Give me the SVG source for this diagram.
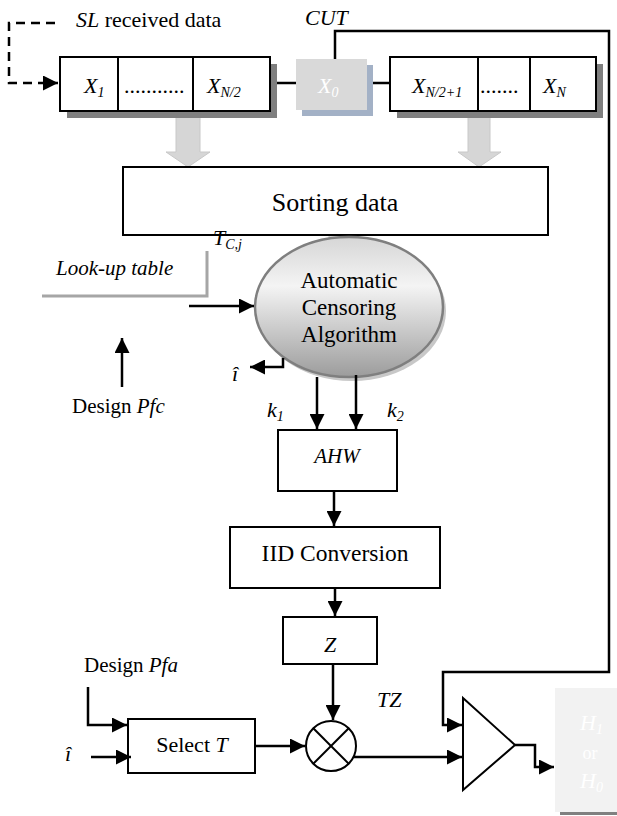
<svg xmlns="http://www.w3.org/2000/svg" width="617" height="816" viewBox="0 0 617 816">
<defs>
<marker id="ah" viewBox="0 0 10 10" refX="10" refY="5" markerWidth="6" markerHeight="6" markerUnits="strokeWidth" orient="auto"><path d="M0,0 L10,5 L0,10 z" fill="#000"/></marker>
<linearGradient id="eg" x1="0" y1="0" x2="0" y2="1">
<stop offset="0" stop-color="#d6d6d6"/>
<stop offset="0.35" stop-color="#f4f4f4"/>
<stop offset="1" stop-color="#9c9c9c"/>
</linearGradient>
</defs>
<style>
text{font-family:"Liberation Serif","Times New Roman",serif;font-size:22px;fill:#000}
.i{font-style:italic}
.sub{font-size:14px;font-style:italic}
.box{fill:#fff;stroke:#000;stroke-width:2}
.sh{fill:#7f7f7f}
.ln{fill:none;stroke:#000;stroke-width:2.5}
.arr{fill:none;stroke:#000;stroke-width:2.5;marker-end:url(#ah)}
.blk{fill:#d6d6d6;stroke:#c8c8c8;stroke-width:1}
.gl{fill:none;stroke:#a6a6a6;stroke-width:3}
.w{fill:#fff}
</style>
<rect width="617" height="816" fill="#fff"/>

<g id="blockarrows">
<path class="blk" d="M176,111 H200 V152 H210 L188,167 L166,152 H176 Z"/>
<path class="blk" d="M468,111 H490 V152 H501 L479,167 L458,152 H468 Z"/>
<path class="blk" d="M329,235 H352 V249 H364 L340,262 L316,249 H329 Z"/>
</g>

<g id="left-array">
<rect class="sh" x="67" y="64" width="210" height="54"/>
<rect class="box" x="60" y="57" width="210" height="54"/>
<line x1="118" y1="57" x2="118" y2="111" stroke="#000" stroke-width="2"/>
<line x1="193" y1="57" x2="193" y2="111" stroke="#000" stroke-width="2"/>
<text x="84" y="93" class="i">X<tspan class="sub" dy="4">1</tspan></text>
<text x="124" y="93">...........</text>
<text x="207" y="93" class="i">X<tspan class="sub" dy="4">N/2</tspan></text>
</g>

<g id="cut-cell">
<rect x="302" y="65" width="71" height="51" fill="#a3b1c6"/>
<rect x="296" y="59" width="71" height="51" fill="#d9d9d9"/>
<text x="318" y="93" class="i w">X<tspan class="sub w" dy="4">0</tspan></text>
</g>

<g id="right-array">
<rect class="sh" x="397" y="64" width="206" height="54"/>
<rect class="box" x="390" y="57" width="206" height="54"/>
<line x1="478" y1="57" x2="478" y2="111" stroke="#000" stroke-width="2"/>
<line x1="530" y1="57" x2="530" y2="111" stroke="#000" stroke-width="2"/>
<text x="412" y="93" class="i">X<tspan class="sub" dy="4">N/2+1</tspan></text>
<text x="480" y="93">.......</text>
<text x="543" y="93" class="i">X<tspan class="sub" dy="4">N</tspan></text>
</g>

<g id="sorting">
<rect class="box" x="123" y="167" width="425" height="68"/>
<text x="335" y="211" text-anchor="middle" style="font-size:26px">Sorting data</text>
</g>

<g id="censoring">
<ellipse cx="352" cy="311" rx="94" ry="70" fill="#c8c8c8"/>
<ellipse cx="349" cy="307" rx="94" ry="70" fill="url(#eg)" stroke="#7f7f7f" stroke-width="2.5"/>
<text x="349" y="288" text-anchor="middle" style="font-size:23px">Automatic</text>
<text x="349" y="315" text-anchor="middle" style="font-size:23px">Censoring</text>
<text x="349" y="342" text-anchor="middle" style="font-size:23px">Algorithm</text>
</g>

<g id="lookup">
<path class="gl" d="M42,296 H207 V251"/>
<text x="56" y="275" class="i" style="font-size:21px">Look-up table</text>
</g>

<g id="ahw">
<rect class="box" x="278" y="430" width="119" height="61"/>
<text x="337" y="463" text-anchor="middle" class="i" style="font-size:21px">AHW</text>
</g>

<g id="iid">
<rect class="box" x="230" y="527" width="210" height="61"/>
<text x="335" y="561" text-anchor="middle" style="font-size:23.5px">IID Conversion</text>
</g>

<g id="z">
<rect class="box" x="283" y="617" width="94" height="47"/>
<text x="330" y="652" text-anchor="middle" class="i">Z</text>
</g>

<g id="select">
<rect class="box" x="128" y="719" width="127" height="54"/>
<text x="192" y="752" text-anchor="middle">Select <tspan class="i">T</tspan></text>
</g>

<g id="multiplier">
<circle cx="331" cy="746" r="25" fill="#fff" stroke="#000" stroke-width="2"/>
<line x1="313.3" y1="728.3" x2="348.7" y2="763.7" stroke="#000" stroke-width="2"/>
<line x1="348.7" y1="728.3" x2="313.3" y2="763.7" stroke="#000" stroke-width="2"/>
</g>

<g id="comparator">
<path d="M463,698 L515,745 L463,790 Z" fill="#fff" stroke="#000" stroke-width="2"/>
</g>

<g id="decision">
<rect x="555" y="688" width="62" height="124" fill="#f2f2f2"/>
<rect x="560" y="812" width="57" height="3" fill="#808080"/>
<text x="580" y="730" class="i w">H<tspan class="sub w" dy="4">1</tspan></text>
<text x="590" y="759" text-anchor="middle" class="w" style="font-size:18px">or</text>
<text x="580" y="788" class="i w">H<tspan class="sub w" dy="4">0</tspan></text>
</g>

<g id="labels">
<text x="76" y="27"><tspan class="i">SL</tspan> received data</text>
<text x="305" y="25" class="i">CUT</text>
<text x="213" y="245" class="i">T<tspan class="sub" dy="4">C,j</tspan></text>
<text x="232" y="381" class="i">î</text>
<text x="72" y="413" style="font-size:21px">Design <tspan class="i">Pfc</tspan></text>
<text x="267" y="417" class="i">k<tspan class="sub" dy="4">1</tspan></text>
<text x="387" y="417" class="i">k<tspan class="sub" dy="4">2</tspan></text>
<text x="84" y="672" style="font-size:21px">Design <tspan class="i">Pfa</tspan></text>
<text x="65" y="761" class="i">î</text>
<text x="377" y="707" class="i">TZ</text>
</g>

<g id="connectors">
<path d="M55,23 H9 V83 H58" fill="none" stroke="#000" stroke-width="2.5" stroke-dasharray="9,6" marker-end="url(#ah)"/>
<line class="ln" x1="277" y1="83" x2="296" y2="83"/>
<line class="ln" x1="373" y1="83" x2="390" y2="83"/>
<path class="arr" d="M335,59 V31 H609 V672 H443 V725 H462"/>
<line class="arr" x1="189" y1="306" x2="254" y2="306"/>
<path class="arr" d="M283,358 V367 H250"/>
<line class="arr" x1="122" y1="387" x2="122" y2="338"/>
<line class="arr" x1="317" y1="377" x2="317" y2="429"/>
<line class="arr" x1="356" y1="375" x2="356" y2="429"/>
<line class="arr" x1="334" y1="491" x2="334" y2="526"/>
<line class="arr" x1="335" y1="588" x2="335" y2="616"/>
<line class="arr" x1="333" y1="664" x2="333" y2="720"/>
<path class="arr" d="M88,687 V725 H127"/>
<line class="arr" x1="91" y1="757" x2="131" y2="757"/>
<line class="arr" x1="255" y1="746" x2="305" y2="746"/>
<line class="arr" x1="354" y1="757" x2="462" y2="757"/>
<path class="arr" d="M515,745 H535 V767 H554"/>
</g>
</svg>
